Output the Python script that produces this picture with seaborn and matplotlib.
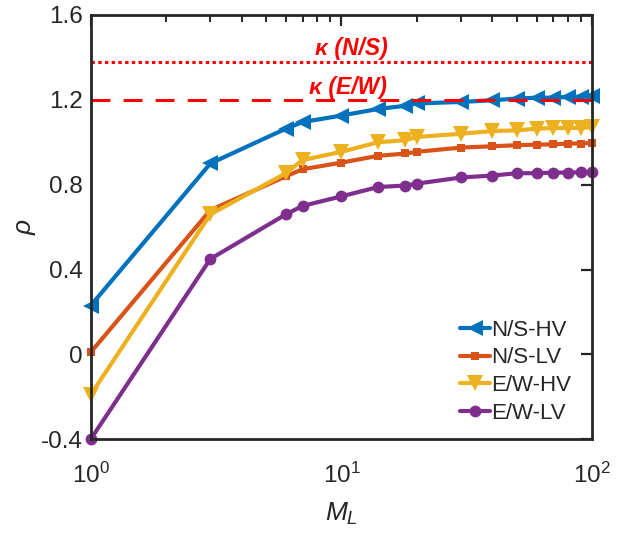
import numpy as np
import pandas as pd
import matplotlib
matplotlib.use('Agg')
import matplotlib.pyplot as plt
import seaborn as sns
from matplotlib.ticker import LogLocator, FixedLocator, NullFormatter, FuncFormatter

# ---- data ----
M_L = [1, 3, 6, 7, 10, 14, 18, 20, 30, 40, 50, 60, 70, 80, 90, 100]
ns_hv = [0.23, 0.90, 1.064, 1.095, 1.126, 1.157, 1.172, 1.183, 1.19, 1.198, 1.206, 1.21, 1.21, 1.214, 1.215, 1.22]
ns_lv = [0.01, 0.68, 0.839, 0.873, 0.904, 0.936, 0.947, 0.955, 0.975, 0.981, 0.986, 0.989, 0.99, 0.994, 0.994, 0.997]
ew_hv = [-0.19, 0.66, 0.854, 0.916, 0.955, 1.00, 1.01, 1.025, 1.04, 1.053, 1.056, 1.064, 1.067, 1.067, 1.068, 1.071]
ew_lv = [-0.40, 0.45, 0.66, 0.70, 0.745, 0.789, 0.796, 0.805, 0.834, 0.843, 0.854, 0.854, 0.857, 0.857, 0.859, 0.859]
series_names = ['N/S-HV', 'N/S-LV', 'E/W-HV', 'E/W-LV']
kappa_ns = 1.38
kappa_ew = 1.20
y_ticks = [-0.4, 0, 0.4, 0.8, 1.2, 1.6]

colors = ['#0072BD', '#D95319', '#EDB120', '#7E2F8E']
markers = ['<', 's', 'v', 'o']
msizes = [11.5, 6, 11.5, 8.5]

df = pd.DataFrame({
    'M_L': M_L * 4,
    'rho': ns_hv + ns_lv + ew_hv + ew_lv,
    'series': np.repeat(series_names, len(M_L)),
})

sns.set_theme(style='white')
plt.rcParams['font.family'] = ['Liberation Sans', 'DejaVu Sans']
plt.rcParams['axes.unicode_minus'] = False
plt.rcParams['mathtext.fontset'] = 'custom'
plt.rcParams['mathtext.rm'] = 'Liberation Sans'
plt.rcParams['mathtext.it'] = 'Liberation Sans:italic'

fig = plt.figure(figsize=(6.3, 5.35), dpi=100)
ax = fig.add_axes([0.144, 0.179, 0.796, 0.793])

for name, c, m, ms in zip(series_names, colors, markers, msizes):
    sub = df[df['series'] == name]
    sns.lineplot(data=sub, x='M_L', y='rho', ax=ax, color=c, marker=m,
                 markersize=ms, markeredgewidth=0, linewidth=3.0, label=name,
                 legend=False, clip_on=False)

ax.axhline(kappa_ns, color='#FF0000', linestyle=(0, (1.1, 1.1)), linewidth=2.2, zorder=5)
ax.axhline(kappa_ew, color='#FF0000', linestyle=(0, (6.2, 4.3)), linewidth=2.2, zorder=5)
ax.text(11.0, 1.444, 'κ (N/S)', color='#FF0000', fontsize=16.5, fontweight='bold',
        fontstyle='italic', ha='center', va='center')
ax.text(10.6, 1.26, 'κ (E/W)', color='#FF0000', fontsize=16.5, fontweight='bold',
        fontstyle='italic', ha='center', va='center')

ax.set_xscale('log')
ax.set_xlim(1, 100)
ax.set_ylim(-0.4, 1.6)
ax.yaxis.set_major_locator(FixedLocator(y_ticks))
ax.yaxis.set_major_formatter(FuncFormatter(lambda v, p: '%g' % round(v, 2)))
ax.xaxis.set_major_locator(LogLocator(base=10, numticks=10))
ax.xaxis.set_minor_locator(LogLocator(base=10, subs=np.arange(2, 10), numticks=20))
ax.xaxis.set_minor_formatter(NullFormatter())

for s in ax.spines.values():
    s.set_visible(True)
    s.set_color('#262626')
    s.set_linewidth(2.0)
    s.set_zorder(6)

ax.tick_params(which='major', direction='in', length=8, width=1.6, color='#262626',
               top=True, right=True, labelsize=17.5, labelcolor='#262626')
ax.tick_params(which='minor', direction='in', length=5, width=1.4, color='#262626',
               top=True, right=True)
ax.tick_params(axis='x', which='major', pad=17)
ax.tick_params(axis='y', which='major', pad=6)

ax.set_xlabel('$M_L$', fontsize=19, color='#262626', labelpad=9)
ax.set_ylabel('ρ', fontsize=19, fontstyle='italic', color='#262626', labelpad=3)

ax.legend(loc='lower right', bbox_to_anchor=(0.985, 0.005), frameon=False, fontsize=16,
          handlelength=1.35, handletextpad=0.06, labelspacing=0.3, borderaxespad=0.2)

fig.savefig('out.png', dpi=100)
